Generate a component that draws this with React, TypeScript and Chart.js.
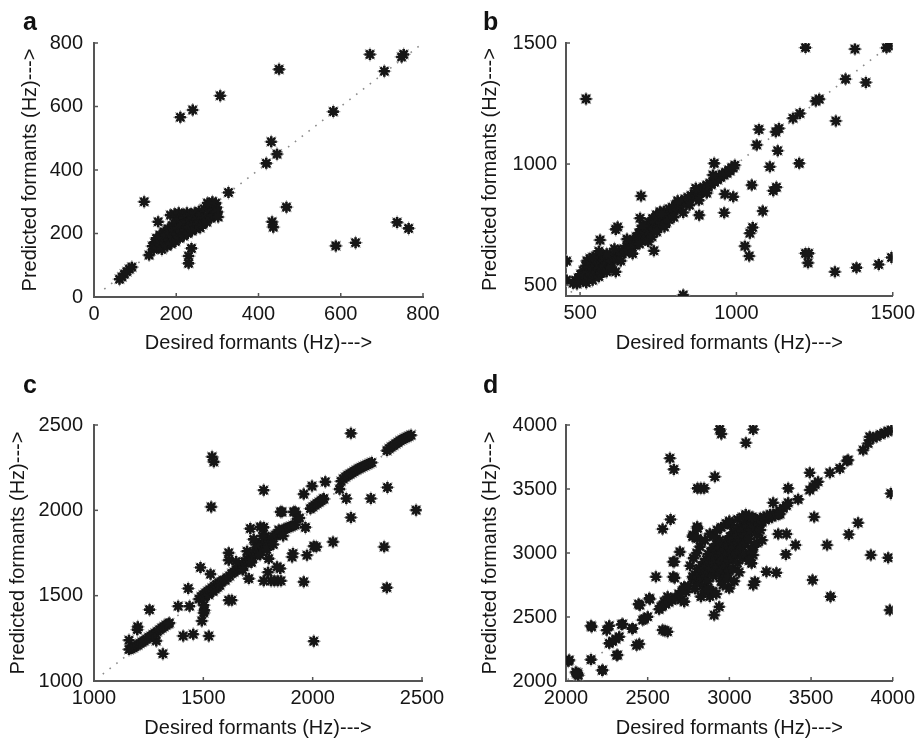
import React, { useEffect, useRef } from "react";
import { Chart, registerables } from "chart.js";

Chart.register(...registerables);

type Pt = [number, number];

const xTitle = "Desired formants (Hz)--->";
const yTitle = "Predicted formants (Hz)--->";

// tick labels
const ticksA = [0, 200, 400, 600, 800];
const ticksB = [500, 1000, 1500];
const ticksC = [1000, 1500, 2000, 2500];
const ticksD = [2000, 2500, 3000, 3500, 4000];

// axis ranges
const rangeA: Pt = [0, 800];
const rangeB: Pt = [455, 1500];
const rangeC: Pt = [1000, 2500];
const rangeD: Pt = [2000, 4000];

// dotted y = x reference line extents
const diagA: Pt = [25, 790];
const diagB: Pt = [470, 1495];
const diagC: Pt = [1040, 2480];
const diagD: Pt = [2010, 3995];

// panel a: [desired, predicted]
const pointsA: Pt[] = [
  [450, 717], [671, 764], [753, 764], [748, 756], [706, 711], [307, 634], [240, 589], [210, 566],
  [582, 584], [431, 489], [445, 450], [419, 421], [327, 329], [468, 283], [433, 237], [436, 220],
  [588, 161], [636, 171], [737, 235], [765, 216], [122, 300], [156, 237], [134, 132], [237, 153],
  [230, 129], [230, 106],
  [62, 56], [68, 63], [74, 72], [80, 80], [86, 88], [92, 94],
  [142, 160], [145, 150], [148, 172], [150, 162], [152, 185], [155, 155], [158, 175], [160, 195],
  [162, 165], [165, 150], [168, 185], [170, 205], [172, 170], [175, 195], [178, 160], [180, 215],
  [182, 180], [185, 200], [186, 258], [188, 168], [190, 225], [192, 190], [195, 210], [196, 262],
  [198, 175], [200, 235], [202, 198], [205, 218], [206, 265], [208, 185], [210, 245], [212, 205],
  [215, 228], [216, 260], [218, 192], [220, 250], [222, 212], [225, 235], [226, 265], [228, 200],
  [230, 255], [232, 220], [235, 242], [236, 262], [238, 208], [240, 250], [243, 228], [245, 265],
  [248, 215], [250, 245], [253, 230], [255, 270], [258, 218], [260, 258], [264, 228], [268, 278],
  [270, 250], [274, 236], [278, 285], [280, 262], [284, 248], [286, 292], [290, 275], [292, 258],
  [296, 296], [298, 282], [300, 268], [302, 252], [288, 300], [276, 296],
];

// panel b
const pointsB: Pt[] = [
  [519, 1269], [1221, 1481], [1379, 1475], [1488, 1488], [1480, 1480], [1414, 1337], [1349, 1351],
  [1254, 1260], [1265, 1268], [1203, 1209], [1181, 1189], [1318, 1178], [1136, 1147], [1126, 1133],
  [1072, 1143], [1065, 1079], [1132, 1055], [1107, 989], [1201, 1003], [1049, 913], [1128, 904],
  [1118, 890], [1084, 806], [1052, 738], [1043, 714], [1027, 661], [1041, 620], [1221, 631],
  [1231, 631], [1229, 592], [1315, 555], [1384, 572], [1455, 585], [1496, 614], [830, 459],
  [929, 1003], [963, 876], [990, 865], [961, 799], [881, 789], [695, 868], [692, 776], [736, 642],
  [614, 730], [620, 740], [564, 686], [457, 599], [457, 521], [614, 555], [756, 803],
  [478, 508], [485, 520], [490, 505], [495, 530], [500, 515], [502, 545], [508, 525], [510, 560],
  [515, 540], [518, 580], [520, 510], [522, 600], [525, 555], [528, 530], [530, 575], [532, 610],
  [535, 545], [538, 590], [540, 520], [542, 565], [545, 600], [548, 540], [550, 580], [552, 620],
  [555, 555], [558, 595], [560, 535], [562, 570], [565, 610], [568, 550], [570, 590], [572, 625],
  [575, 565], [578, 600], [580, 580], [585, 555], [588, 610], [590, 590], [595, 575], [598, 620],
  [600, 600], [608, 615], [615, 625], [620, 605], [625, 640], [632, 630], [640, 650], [645, 635],
  [650, 660], [655, 645], [660, 672], [665, 655], [670, 685], [675, 665], [680, 700], [684, 680],
  [688, 715], [692, 692], [695, 730], [700, 705], [704, 745], [708, 720], [712, 690], [715, 735],
  [720, 760], [724, 712], [728, 745], [732, 775], [736, 730], [740, 760], [744, 790], [748, 740],
  [752, 770], [756, 800], [760, 755], [764, 780], [768, 805], [772, 785], [776, 760], [780, 800],
  [785, 815], [790, 795], [795, 820], [800, 805], [805, 830], [810, 812], [815, 835], [820, 825],
  [825, 845], [830, 835], [835, 855], [840, 845], [845, 862], [850, 852], [855, 870], [860, 862],
  [865, 878], [870, 870], [875, 888], [880, 880], [885, 895], [890, 888], [895, 905], [900, 898],
  [905, 912], [910, 905], [915, 920], [920, 915], [925, 928], [930, 925], [935, 938], [940, 935],
  [945, 948], [950, 945], [955, 958], [960, 955], [965, 965], [970, 962], [975, 975], [980, 972],
  [985, 985], [990, 985], [995, 995],
  [610, 650], [630, 600], [650, 690], [668, 630], [690, 670], [700, 745], [718, 680], [730, 700],
  [745, 720], [760, 795], [770, 740], [785, 770], [800, 780], [812, 848], [830, 800], [850, 830],
  [870, 900], [880, 850], [905, 880], [925, 955], [600, 570], [585, 630], [560, 640], [540, 615],
];

// panel c
const pointsC: Pt[] = [
  [1540, 2314], [1548, 2284], [1536, 2020], [2175, 2451], [1776, 2118], [2342, 2134], [2266, 2069],
  [2473, 2001], [2175, 1958], [2327, 1786], [2339, 1547], [2005, 1233], [2093, 1815], [2005, 1790],
  [2017, 1786], [1974, 1737], [1906, 1727], [1913, 1991], [1959, 2095], [1997, 2142], [2058, 2167],
  [2050, 2069], [2154, 2069], [2123, 2124], [1959, 1581], [1860, 1991], [1855, 1587], [1840, 1587],
  [1825, 1587], [1810, 1587], [1776, 1587], [1796, 1637], [1852, 1659], [1799, 1717], [1708, 1600],
  [1616, 1751], [1616, 1708], [1616, 1473], [1630, 1473], [1487, 1665], [1431, 1542], [1533, 1626],
  [1385, 1438], [1437, 1438], [1505, 1414], [1502, 1444], [1502, 1399], [1493, 1352], [1525, 1264],
  [1454, 1274], [1408, 1264], [1254, 1418], [1160, 1239], [1285, 1235], [1315, 1160], [1198, 1301],
  [1200, 1318], [1715, 1893], [1761, 1903], [1776, 1900], [1784, 1848], [1804, 1805], [1753, 1805],
  [1853, 1991], [1921, 1991], [1967, 1900], [1910, 1747], [1837, 1669],
  [1160, 1185], [1170, 1190], [1180, 1195], [1190, 1205], [1200, 1210], [1210, 1220], [1220, 1228],
  [1230, 1235], [1240, 1245], [1250, 1255], [1260, 1262], [1270, 1272], [1280, 1280], [1290, 1290],
  [1300, 1300], [1310, 1310], [1320, 1318], [1330, 1328], [1340, 1335], [1345, 1340],
  [1480, 1480], [1490, 1495], [1500, 1505], [1505, 1490], [1510, 1515], [1520, 1525], [1525, 1505],
  [1530, 1535], [1540, 1545], [1545, 1525], [1550, 1555], [1555, 1540], [1560, 1565], [1565, 1550],
  [1570, 1575], [1575, 1560], [1580, 1580], [1590, 1590],
  [1600, 1590], [1610, 1605], [1620, 1615], [1630, 1630], [1640, 1638], [1650, 1650], [1660, 1655],
  [1665, 1672], [1670, 1665], [1680, 1685], [1685, 1675], [1690, 1700], [1695, 1690], [1700, 1715],
  [1705, 1700], [1710, 1728], [1715, 1712], [1720, 1740], [1725, 1722], [1730, 1750], [1735, 1735],
  [1740, 1762], [1745, 1745], [1750, 1775], [1755, 1758], [1760, 1785], [1770, 1795], [1775, 1778],
  [1780, 1805], [1790, 1815], [1795, 1800], [1800, 1825], [1810, 1835], [1820, 1845], [1830, 1855],
  [1840, 1860], [1850, 1870], [1860, 1880], [1870, 1890], [1880, 1895], [1890, 1900], [1900, 1905],
  [1910, 1910], [1920, 1915], [1930, 1950], [1940, 1955],
  [1650, 1700], [1680, 1650], [1720, 1695], [1740, 1800], [1760, 1740], [1790, 1770], [1820, 1800],
  [1845, 1885], [1700, 1760], [1865, 1850], [1730, 1830], [1770, 1850],
  [1990, 2010], [2000, 2020], [2010, 2030], [2020, 2040], [2030, 2048], [2040, 2058], [2050, 2065],
  [2130, 2170], [2140, 2185], [2150, 2195], [2160, 2205], [2170, 2212], [2180, 2220], [2190, 2228],
  [2200, 2236], [2210, 2244], [2220, 2250], [2230, 2256], [2240, 2262], [2250, 2268], [2260, 2274],
  [2270, 2280], [2340, 2350], [2350, 2362], [2360, 2372], [2370, 2380], [2380, 2390], [2390, 2398],
  [2400, 2408], [2410, 2415], [2420, 2422], [2430, 2428], [2440, 2434], [2450, 2440],
];

// panel d
const pointsD: Pt[] = [
  [2941, 3966], [2951, 3930], [3146, 3965], [3101, 3861], [2636, 3740], [2660, 3653], [2911, 3596],
  [2805, 3505], [2825, 3505], [2845, 3505], [2640, 3262], [2591, 3187], [2803, 3205], [2778, 3140],
  [2697, 3009], [2656, 2931], [2550, 2814], [2656, 2814], [2665, 2805], [2663, 2932], [2724, 2737],
  [2734, 2698], [2703, 2633], [2724, 2620], [2775, 2815], [2826, 2659], [2907, 2515], [2999, 2724],
  [2775, 3127], [2805, 3114], [2805, 3192], [3009, 3218], [2938, 2580], [2452, 2592], [2513, 2639],
  [2432, 2279], [2310, 2201], [2249, 2396], [2157, 2423], [2153, 2167], [2222, 2083], [2014, 2154],
  [2065, 2057], [2075, 2044], [2071, 2060], [2060, 2070], [2340, 2441], [2405, 2409], [2153, 2432],
  [2265, 2432], [2347, 2445], [2408, 2411], [2449, 2289], [2469, 2476], [2480, 2485], [2500, 2502],
  [2444, 2601], [2510, 2646], [2581, 2580], [2601, 2620], [2622, 2658], [2591, 2398], [2606, 2392],
  [2622, 2385], [2316, 2203], [2265, 2294], [2285, 2310], [2305, 2328], [2326, 2346], [2224, 2086],
  [2020, 2164],
  [2570, 2560], [2590, 2585], [2610, 2600], [2630, 2615], [2650, 2630], [2670, 2650], [2690, 2680],
  [2710, 2700], [2730, 2720], [2750, 2740],
  [3819, 3804], [3849, 3856], [3859, 3908], [3880, 3900], [3900, 3908], [3925, 3925], [3951, 3939],
  [3970, 3950], [3992, 3960], [3727, 3726], [3720, 3720], [3676, 3661], [3615, 3627], [3492, 3627],
  [3543, 3557], [3525, 3535], [3513, 3518], [3492, 3492], [3421, 3419], [3360, 3505], [3268, 3393],
  [3360, 3393], [3330, 3350], [3350, 3370], [3309, 3330], [3519, 3281], [3788, 3236], [3731, 3145],
  [3350, 3148], [3299, 3148], [3405, 3062], [3598, 3062], [3866, 2984], [3972, 2963], [3988, 3465],
  [3346, 2989], [3146, 2984], [3136, 2919], [3227, 2854], [3288, 2846], [3156, 2776], [3146, 2750],
  [3509, 2789], [3619, 2659], [3982, 2554],
  [2780, 2800], [2790, 2830], [2800, 2780], [2805, 2850], [2810, 2815], [2815, 2880], [2820, 2760],
  [2825, 2835], [2830, 2900], [2835, 2800], [2840, 2860], [2845, 2930], [2850, 2740], [2850, 2880],
  [2855, 2820], [2860, 2950], [2865, 2900], [2870, 2780], [2870, 2990], [2875, 2850], [2880, 2930],
  [2885, 2700], [2885, 3010], [2890, 2880], [2895, 2960], [2900, 2820], [2900, 3040], [2905, 2920],
  [2910, 2990], [2915, 2860], [2920, 3070], [2920, 2950], [2925, 3020], [2930, 2890], [2935, 2980],
  [2940, 3100], [2940, 2840], [2945, 3040], [2950, 2930], [2955, 3000], [2960, 2870], [2965, 3070],
  [2970, 2960], [2975, 3030], [2980, 2900], [2985, 3100], [2990, 2990], [2995, 3060], [3000, 2940],
  [3005, 3130], [3010, 3020], [3015, 3090], [3020, 2960], [3025, 3160], [3030, 3050], [3035, 3120],
  [3040, 2990], [3045, 3180], [3050, 3080], [3055, 3140], [3060, 3020], [3065, 3200], [3070, 3100],
  [3075, 3170], [3080, 3050], [3085, 3220], [3090, 3130], [3095, 3190], [3100, 3080], [3105, 3240],
  [3110, 3150], [3115, 3210], [3120, 3110], [3125, 3260], [3130, 3180], [3140, 3230], [3150, 3270],
  [3160, 3200], [3170, 3250], [3180, 3220], [3190, 3270], [3200, 3240], [3210, 3280], [3220, 3260],
  [3230, 3290], [3240, 3270], [3250, 3300], [3260, 3280], [3270, 3300], [3280, 3295], [3290, 3310],
  [3300, 3300], [3310, 3305], [2880, 2660], [2900, 2700], [2920, 2680],
  [2760, 2900], [2780, 2960], [2800, 3000], [2820, 3050], [2850, 3100], [2880, 3150], [2905, 3130],
  [2925, 3180], [2950, 3200], [2980, 3230], [3000, 3250], [3050, 3262], [3080, 3280], [3100, 3300],
  [3120, 3290], [3140, 3280], [2950, 2780], [2980, 2820], [3000, 2860], [3020, 2880], [3050, 2920],
  [3080, 2960], [3100, 2990], [3130, 3020], [3150, 3050], [3170, 3080], [3200, 3100], [3060, 2850],
  [3120, 2940], [2850, 2700], [2870, 2720], [2960, 2750], [2990, 2800], [3170, 3140], [3190, 3180],
  [3030, 2780], [2790, 2720],
];

const FONT = '"Liberation Sans", Arial, Helvetica, sans-serif';
const INK = "#161616";
const W = 460;
const H = 370;

type PanelDef = {
  letter: string;
  pts: Pt[];
  diag: Pt;
  ticks: number[];
  range: Pt;
  left: number;
  top: number;
  area: { l: number; r: number; t: number; b: number };
  yTickPad: number;
  yTitleX: number;
  xTitleY: number;
  letterY: number;
};

const panels: PanelDef[] = [
  { letter: "a", pts: pointsA, diag: diagA, ticks: ticksA, range: rangeA, left: 0, top: 0,
    area: { l: 94, r: 423, t: 43, b: 297 }, yTickPad: 11, yTitleX: 30, xTitleY: 343, letterY: 30 },
  { letter: "b", pts: pointsB, diag: diagB, ticks: ticksB, range: rangeB, left: 460, top: 0,
    area: { l: 106, r: 434, t: 43, b: 296 }, yTickPad: 9, yTitleX: 30, xTitleY: 343, letterY: 30 },
  { letter: "c", pts: pointsC, diag: diagC, ticks: ticksC, range: rangeC, left: 0, top: 370,
    area: { l: 94, r: 422, t: 55, b: 311 }, yTickPad: 11, yTitleX: 18, xTitleY: 358, letterY: 23 },
  { letter: "d", pts: pointsD, diag: diagD, ticks: ticksD, range: rangeD, left: 460, top: 370,
    area: { l: 106, r: 434, t: 55, b: 311 }, yTickPad: 9, yTitleX: 30, xTitleY: 358, letterY: 23 },
];

function Panel({ p }: { p: PanelDef }) {
  const ref = useRef<HTMLCanvasElement | null>(null);
  useEffect(() => {
    if (!ref.current) return;
    const titleFont = { family: FONT, size: 20 };
    const lh = 20 * 1.2;
    const tickValues = p.ticks;
    const setTicks = (s: any) => {
      s.ticks = tickValues.map((v) => ({ value: v }));
    };
    const fmt = (v: any) => String(v);
    const extras = {
      id: "extras" + p.letter,
      afterDraw(chart: any) {
        const ctx = chart.ctx;
        const a = chart.chartArea;
        ctx.save();
        ctx.strokeStyle = "#555";
        ctx.lineWidth = 1.5;
        const xs = chart.scales.x;
        const ys = chart.scales.y;
        tickValues.forEach((v) => {
          const x = xs.getPixelForValue(v);
          ctx.beginPath();
          ctx.moveTo(x, a.bottom);
          ctx.lineTo(x, a.bottom - 4);
          ctx.stroke();
          const y = ys.getPixelForValue(v);
          ctx.beginPath();
          ctx.moveTo(a.left, y);
          ctx.lineTo(a.left + 4, y);
          ctx.stroke();
        });
        ctx.font = "bold 25px " + FONT;
        ctx.fillStyle = "#111";
        ctx.textBaseline = "alphabetic";
        ctx.textAlign = "left";
        ctx.fillText(p.letter, 23, p.letterY);
        ctx.restore();
      },
    };
    const xy = p.pts.map(([x, y]) => ({ x, y }));
    const chart = new Chart(ref.current, {
      type: "scatter",
      data: {
        datasets: [
          {
            type: "line",
            data: [
              { x: p.diag[0], y: p.diag[0] },
              { x: p.diag[1], y: p.diag[1] },
            ],
            borderColor: "#8a8a8a",
            borderWidth: 1.6,
            borderDash: [1.6, 7],
            pointRadius: 0,
            fill: false,
            order: 3,
          } as any,
          {
            type: "scatter",
            data: xy,
            pointStyle: "star",
            pointRadius: 7,
            borderWidth: 1.2,
            borderColor: "#9a9a9a",
            backgroundColor: "#9a9a9a",
            order: 2,
          } as any,
          {
            type: "scatter",
            data: xy,
            pointStyle: "star",
            pointRadius: 5.5,
            borderWidth: 2.6,
            borderColor: INK,
            backgroundColor: INK,
            order: 1,
          } as any,
        ],
      },
      options: {
        animation: false,
        responsive: false,
        events: [],
        layout: { padding: { top: p.area.t, right: W - p.area.r, bottom: 0, left: 0 } },
        plugins: { legend: { display: false }, tooltip: { enabled: false } },
        scales: {
          x: {
            type: "linear",
            min: p.range[0],
            max: p.range[1],
            afterBuildTicks: setTicks,
            afterFit: (s: any) => {
              s.height = H - p.area.b;
            },
            grid: { display: false, drawTicks: false },
            border: { display: true, color: "#555", width: 2 },
            ticks: { padding: 5, color: INK, callback: fmt, font: { family: FONT, size: 20 } },
            title: {
              display: true,
              text: xTitle,
              color: INK,
              font: titleFont,
              padding: { top: 0, bottom: Math.max(0, H - p.xTitleY - lh / 2) },
            },
          },
          y: {
            type: "linear",
            min: p.range[0],
            max: p.range[1],
            afterBuildTicks: setTicks,
            afterFit: (s: any) => {
              s.width = p.area.l;
            },
            grid: { display: false, drawTicks: false },
            border: { display: true, color: "#555", width: 2 },
            ticks: { padding: p.yTickPad, color: INK, callback: fmt, font: { family: FONT, size: 20 } },
            title: {
              display: true,
              text: yTitle,
              color: INK,
              font: titleFont,
              padding: { top: Math.max(0, p.yTitleX - lh / 2), bottom: 0 },
            },
          },
        },
      } as any,
      plugins: [extras],
    });
    return () => chart.destroy();
  }, [p]);
  return (
    <canvas
      ref={ref}
      width={W}
      height={H}
      style={{ position: "absolute", left: p.left, top: p.top, width: W, height: H }}
    />
  );
}

export default function App() {
  return (
    <div style={{ position: "absolute", left: 0, top: 0, width: 920, height: 741, background: "#fff" }}>
      {panels.map((p) => (
        <Panel key={p.letter} p={p} />
      ))}
    </div>
  );
}
